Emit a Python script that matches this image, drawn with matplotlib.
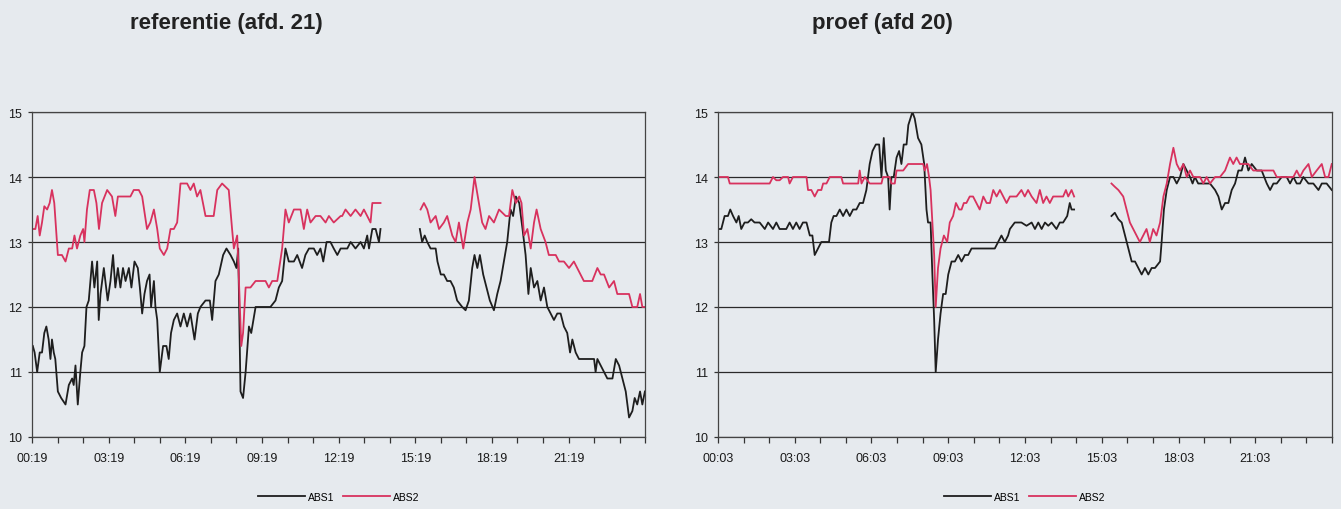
import numpy as np
import matplotlib.pyplot as plt
from matplotlib import font_manager

nan = np.nan

# tick labels (every 3 hours, minor tick each hour)
ref_ticks = ["00:19", "03:19", "06:19", "09:19", "12:19", "15:19", "18:19", "21:19"]
proef_ticks = ["00:03", "03:03", "06:03", "09:03", "12:03", "15:03", "18:03", "21:03"]

# referentie (afd. 21) - hours after start, temperature
ref_abs1_h = [0.03, 0.10, 0.20, 0.30, 0.39, 0.48, 0.56, 0.65, 0.72, 0.78, 0.85, 0.91, 1.01, 1.14, 1.31,
              1.44, 1.57, 1.63, 1.70, 1.79, 1.89, 1.96, 2.05, 2.13, 2.22, 2.35, 2.44, 2.55, 2.61, 2.68,
              2.81, 2.96, 3.07, 3.17, 3.26, 3.36, 3.46, 3.56, 3.66, 3.79, 3.89, 4.01, 4.14, 4.22, 4.31,
              4.40, 4.50, 4.60, 4.66, 4.77, 4.83, 4.90, 5.00, 5.13, 5.26, 5.35, 5.44, 5.55, 5.68, 5.81,
              5.94, 6.07, 6.20, 6.36, 6.49, 6.59, 6.79, 6.96, 7.05, 7.18, 7.31, 7.48, 7.61, 7.77, 7.90,
              8.00, 8.07, 8.16, 8.26, 8.36, 8.49, 8.58, 8.75, 8.94, 9.33, 9.53, 9.66, 9.79, 9.92, 10.05,
              10.25, 10.38, 10.57, 10.70, 10.84, 11.03, 11.16, 11.29, 11.40, 11.53, 11.68, 11.81, 11.95,
              12.08, 12.14, 12.34, 12.47, 12.66, 12.86, 12.99, 13.12, 13.19, 13.32, 13.45, 13.58, 13.64,
              14.5,
              15.18, 15.27, 15.37, 15.47, 15.60, 15.80, 15.87, 16.00, 16.12, 16.25, 16.38, 16.51, 16.64,
              16.84, 16.97, 17.10, 17.23, 17.32, 17.43, 17.53, 17.66, 17.79, 17.92, 18.08, 18.21, 18.34,
              18.47, 18.60, 18.73, 18.83, 18.94, 19.07, 19.20, 19.32, 19.43, 19.52, 19.65, 19.78, 19.91,
              20.04, 20.17, 20.30, 20.43, 20.56, 20.69, 20.82, 20.95, 21.06, 21.15, 21.28, 21.41, 21.74,
              22.00, 22.06, 22.13, 22.26, 22.39, 22.52, 22.72, 22.85, 22.98, 23.11, 23.24, 23.37, 23.50,
              23.59, 23.69, 23.80, 23.89, 23.99]
ref_abs1 = [11.4, 11.3, 11.0, 11.3, 11.3, 11.6, 11.7, 11.5, 11.2, 11.5, 11.3, 11.2, 10.7, 10.6, 10.5,
            10.8, 10.9, 10.8, 11.1, 10.5, 11.0, 11.3, 11.4, 12.0, 12.1, 12.7, 12.3, 12.7, 11.8, 12.2,
            12.6, 12.1, 12.4, 12.8, 12.3, 12.6, 12.3, 12.6, 12.4, 12.6, 12.3, 12.7, 12.6, 12.3, 11.9,
            12.2, 12.4, 12.5, 12.0, 12.4, 12.0, 11.8, 11.0, 11.4, 11.4, 11.2, 11.6, 11.8, 11.9, 11.7,
            11.9, 11.7, 11.9, 11.5, 11.9, 12.0, 12.1, 12.1, 11.8, 12.4, 12.5, 12.8, 12.9, 12.8, 12.7,
            12.6, 12.9, 10.7, 10.6, 11.0, 11.7, 11.6, 12.0, 12.0, 12.0, 12.1, 12.3, 12.4, 12.9, 12.7,
            12.7, 12.8, 12.6, 12.8, 12.9, 12.9, 12.8, 12.9, 12.7, 13.0, 13.0, 12.9, 12.8,
            12.9, 12.9, 12.9, 13.0, 12.9, 13.0, 12.9, 13.1, 12.9, 13.2, 13.2, 13.0, 13.2,
            nan,
            13.2, 13.0, 13.1, 13.0, 12.9, 12.9, 12.7, 12.5, 12.5, 12.4, 12.4, 12.3, 12.1,
            12.0, 11.95, 12.1, 12.6, 12.8, 12.6, 12.8, 12.5, 12.3, 12.1, 11.95, 12.2, 12.4,
            12.7, 13.0, 13.5, 13.4, 13.7, 13.6, 13.2, 12.8, 12.2, 12.6, 12.3, 12.4, 12.1,
            12.3, 12.0, 11.9, 11.8, 11.9, 11.9, 11.7, 11.6, 11.3, 11.5, 11.3, 11.2, 11.2,
            11.2, 11.0, 11.2, 11.1, 11.0, 10.9, 10.9, 11.2, 11.1, 10.9, 10.7, 10.3, 10.4,
            10.6, 10.5, 10.7, 10.5, 10.7]

ref_abs2_h = [0.03, 0.13, 0.22, 0.30, 0.39, 0.48, 0.59, 0.69, 0.78, 0.87, 1.01, 1.17, 1.31, 1.44, 1.57,
              1.66, 1.76, 1.89, 2.00, 2.05, 2.15, 2.26, 2.42, 2.52, 2.62, 2.74, 2.94, 3.13, 3.26, 3.36,
              3.59, 3.85, 3.98, 4.18, 4.31, 4.50, 4.63, 4.77, 4.90, 5.00, 5.16, 5.29, 5.42, 5.55, 5.68,
              5.81, 6.07, 6.20, 6.33, 6.46, 6.59, 6.79, 7.11, 7.25, 7.44, 7.70, 7.83, 7.90, 8.03, 8.09,
              8.19, 8.26, 8.36, 8.55, 8.75, 9.14, 9.27, 9.40, 9.60, 9.79, 9.92, 10.05, 10.25, 10.51,
              10.64, 10.77, 10.90, 11.10, 11.29, 11.49, 11.62, 11.81, 12.08, 12.14, 12.27, 12.47, 12.66,
              12.86, 12.99, 13.12, 13.25, 13.32, 13.64,
              14.5,
              15.21, 15.34, 15.47, 15.60, 15.80, 15.93, 16.12, 16.25, 16.45, 16.58, 16.71, 16.88, 17.04,
              17.17, 17.32, 17.49, 17.62, 17.75, 17.89, 18.08, 18.28, 18.54, 18.67, 18.80, 18.94, 19.07,
              19.16, 19.26, 19.39, 19.52, 19.65, 19.75, 19.91, 20.10, 20.23, 20.50, 20.63, 20.82, 21.02,
              21.21, 21.34, 21.60, 21.93, 22.13, 22.26, 22.39, 22.59, 22.78, 22.91, 23.17, 23.37, 23.50,
              23.69, 23.80, 23.89, 23.99]
ref_abs2 = [13.2, 13.2, 13.4, 13.1, 13.3, 13.55, 13.5, 13.6, 13.8, 13.6, 12.8, 12.8, 12.7, 12.9, 12.9,
            13.1, 12.9, 13.1, 13.2, 13.0, 13.5, 13.8, 13.8, 13.6, 13.2, 13.6, 13.8, 13.7, 13.4, 13.7,
            13.7, 13.7, 13.8, 13.8, 13.7, 13.2, 13.3, 13.5, 13.2, 12.9, 12.8, 12.9, 13.2, 13.2, 13.3,
            13.9, 13.9, 13.8, 13.9, 13.7, 13.8, 13.4, 13.4, 13.8, 13.9, 13.8, 13.2, 12.9, 13.1, 12.5,
            11.4, 11.6, 12.3, 12.3, 12.4, 12.4, 12.3, 12.4, 12.4, 12.9, 13.5, 13.3, 13.5, 13.5,
            13.2, 13.5, 13.3, 13.4, 13.4, 13.3, 13.4, 13.3, 13.4, 13.4, 13.5, 13.4, 13.5,
            13.4, 13.5, 13.4, 13.3, 13.6, 13.6,
            nan,
            13.5, 13.6, 13.5, 13.3, 13.4, 13.2, 13.3, 13.4, 13.1, 13.0, 13.3, 12.9, 13.3,
            13.5, 14.0, 13.6, 13.3, 13.2, 13.4, 13.3, 13.5, 13.4, 13.4, 13.8, 13.6, 13.7,
            13.6, 13.1, 13.2, 12.9, 13.3, 13.5, 13.2, 13.0, 12.8, 12.8, 12.7, 12.7, 12.6,
            12.7, 12.6, 12.4, 12.4, 12.6, 12.5, 12.5, 12.3, 12.4, 12.2, 12.2, 12.2, 12.0,
            12.0, 12.2, 12.0, 12.0]

# proef (afd 20)
proef_abs1_h = [0.03, 0.13, 0.26, 0.39, 0.48, 0.59, 0.72, 0.81, 0.91, 1.04, 1.17, 1.30, 1.43, 1.63, 1.83,
                1.96, 2.15, 2.28, 2.41, 2.54, 2.67, 2.80, 2.93, 3.06, 3.19, 3.32, 3.46, 3.59, 3.69, 3.78,
                3.91, 4.04, 4.17, 4.34, 4.43, 4.52, 4.63, 4.76, 4.89, 5.02, 5.15, 5.28, 5.41, 5.54, 5.67,
                5.80, 5.93, 6.04, 6.17, 6.30, 6.39, 6.48, 6.56, 6.65, 6.71, 6.78, 6.87, 6.98, 7.08, 7.17,
                7.26, 7.37, 7.44, 7.52, 7.60, 7.69, 7.82, 7.95, 8.06, 8.15, 8.21, 8.31, 8.38, 8.45, 8.51,
                8.60, 8.70, 8.80, 8.90, 9.00, 9.13, 9.26, 9.39, 9.52, 9.65, 9.78, 9.91, 10.10, 10.50, 10.82,
                10.95, 11.08, 11.21, 11.34, 11.41, 11.60, 11.86, 12.06, 12.26, 12.39, 12.52, 12.65, 12.78,
                12.91, 13.04, 13.23, 13.36, 13.49, 13.65, 13.75, 13.82, 13.92,
                14.6,
                15.38, 15.51, 15.65, 15.78, 15.91, 16.04, 16.17, 16.30, 16.43, 16.56, 16.69, 16.82, 16.95,
                17.08, 17.28, 17.34, 17.43, 17.54, 17.67, 17.80, 17.93, 18.06, 18.19, 18.32, 18.45, 18.55,
                18.64, 18.77, 18.97, 19.23, 19.43, 19.56, 19.69, 19.82, 19.95, 20.08, 20.21, 20.34, 20.47,
                20.60, 20.73, 20.86, 21.06, 21.25, 21.45, 21.58, 21.71, 21.84, 22.03, 22.23, 22.36, 22.49,
                22.62, 22.75, 22.88, 23.08, 23.27, 23.47, 23.60, 23.79, 23.99]
proef_abs1 = [13.2, 13.2, 13.4, 13.4, 13.5, 13.4, 13.3, 13.4, 13.2, 13.3, 13.3, 13.35, 13.3, 13.3, 13.2,
              13.3, 13.2, 13.3, 13.2, 13.2, 13.2, 13.3, 13.2, 13.3, 13.2, 13.3, 13.3, 13.1, 13.1, 12.8,
              12.9, 13.0, 13.0, 13.0, 13.3, 13.4, 13.4, 13.5, 13.4, 13.5, 13.4, 13.5, 13.5, 13.6, 13.6,
              13.8, 14.2, 14.4, 14.5, 14.5, 14.0, 14.6, 14.1, 14.0, 13.5, 14.0, 14.0, 14.3, 14.4, 14.2,
              14.5, 14.5, 14.8, 14.9, 15.0, 14.9, 14.6, 14.5, 14.2, 13.5, 13.3, 13.3, 12.5, 11.8, 11.0,
              11.5, 11.9, 12.2, 12.2, 12.5, 12.7, 12.7, 12.8, 12.7, 12.8, 12.8, 12.9, 12.9, 12.9, 12.9,
              13.0, 13.1, 13.0, 13.1, 13.2, 13.3, 13.3, 13.25, 13.3, 13.2, 13.3, 13.2, 13.3,
              13.25, 13.3, 13.2, 13.3, 13.3, 13.4, 13.6, 13.5, 13.5,
              nan,
              13.4, 13.45, 13.35, 13.3, 13.1, 12.9, 12.7, 12.7, 12.6, 12.5, 12.6, 12.5, 12.6,
              12.6, 12.7, 13.0, 13.5, 13.8, 14.0, 14.0, 13.9, 14.0, 14.2, 14.1, 14.0, 13.9,
              14.0, 13.9, 13.9, 13.9, 13.8, 13.7, 13.5, 13.6, 13.6, 13.8, 13.9, 14.1, 14.1,
              14.3, 14.1, 14.2, 14.1, 14.1, 13.9, 13.8, 13.9, 13.9, 14.0, 14.0, 13.9, 14.0,
              13.9, 13.9, 14.0, 13.9, 13.9, 13.8, 13.9, 13.9, 13.8]

proef_abs2_h = [0.03, 0.39, 0.46, 0.85, 1.50, 2.02, 2.15, 2.28, 2.41, 2.54, 2.74, 2.80, 2.93, 3.06, 3.46,
                3.52, 3.65, 3.78, 3.91, 4.04, 4.11, 4.24, 4.37, 4.63, 4.82, 4.89, 5.28, 5.48, 5.54, 5.61,
                5.74, 5.93, 6.19, 6.39, 6.45, 6.71, 6.78, 6.91, 6.98, 7.24, 7.43, 7.76, 8.02, 8.08, 8.17,
                8.25, 8.31, 8.38, 8.45, 8.51, 8.60, 8.70, 8.83, 8.96, 9.06, 9.19, 9.30, 9.43, 9.52, 9.61,
                9.71, 9.84, 9.97, 10.10, 10.23, 10.37, 10.50, 10.63, 10.76, 10.89, 11.02, 11.15, 11.28,
                11.41, 11.67, 11.86, 11.99, 12.12, 12.26, 12.45, 12.58, 12.71, 12.84, 12.97, 13.10, 13.30,
                13.49, 13.60, 13.69, 13.82, 13.92,
                14.6,
                15.38, 15.51, 15.65, 15.84, 15.97, 16.10, 16.23, 16.36, 16.49, 16.62, 16.75, 16.88, 17.01,
                17.14, 17.28, 17.41, 17.54, 17.67, 17.80, 17.93, 18.06, 18.19, 18.32, 18.45, 18.58, 18.71,
                18.84, 18.97, 19.10, 19.23, 19.43, 19.62, 19.82, 20.01, 20.14, 20.27, 20.40, 20.53, 20.73,
                20.92, 21.32, 21.71, 21.84, 22.10, 22.49, 22.62, 22.75, 22.88, 23.08, 23.21, 23.40, 23.60,
                23.73, 23.86, 23.99]
proef_abs2 = [14.0, 14.0, 13.9, 13.9, 13.9, 13.9, 14.0, 13.95, 13.95, 14.0, 14.0, 13.9, 14.0, 14.0, 14.0,
              13.8, 13.8, 13.7, 13.8, 13.8, 13.9, 13.9, 14.0, 14.0, 14.0, 13.9, 13.9, 13.9, 14.1, 13.9,
              14.0, 13.9, 13.9, 13.9, 14.0, 14.0, 13.9, 13.9, 14.1, 14.1, 14.2, 14.2, 14.2, 14.1, 14.2,
              14.0, 13.8, 13.3, 12.8, 12.0, 12.6, 12.9, 13.1, 13.0, 13.3, 13.4, 13.6, 13.5, 13.5, 13.6,
              13.6, 13.7, 13.7, 13.6, 13.5, 13.7, 13.6, 13.6, 13.8, 13.7, 13.8, 13.7, 13.6,
              13.7, 13.7, 13.8, 13.7, 13.8, 13.7, 13.6, 13.8, 13.6, 13.7, 13.6, 13.7, 13.7,
              13.7, 13.8, 13.7, 13.8, 13.7,
              nan,
              13.9, 13.85, 13.8, 13.7, 13.5, 13.3, 13.2, 13.1, 13.0, 13.1, 13.2, 13.0, 13.2,
              13.1, 13.3, 13.7, 13.9, 14.2, 14.45, 14.2, 14.1, 14.2, 14.0, 14.1, 14.0, 14.0,
              14.0, 13.9, 14.0, 13.9, 14.0, 14.0, 14.1, 14.3, 14.2, 14.3, 14.2, 14.2, 14.2,
              14.1, 14.1, 14.1, 14.0, 14.0, 14.0, 14.1, 14.0, 14.1, 14.2, 14.0, 14.1, 14.2,
              14.0, 14.0, 14.2]

bg = "#e6eaee"
red = "#d8325e"
blk = "#1e1e1e"

names = {f.name for f in font_manager.fontManager.ttflist}
font = "Liberation Sans Narrow" if "Liberation Sans Narrow" in names else "Liberation Sans"
plt.rcParams["font.family"] = [font, "DejaVu Sans"]

fig = plt.figure(figsize=(13.41, 5.10), dpi=100, facecolor=bg)

panels = [
    ([0.0239, 0.1412, 0.4572, 0.6372], ref_abs1_h, ref_abs1, ref_abs2_h, ref_abs2, ref_ticks),
    ([0.5354, 0.1412, 0.4579, 0.6372], proef_abs1_h, proef_abs1, proef_abs2_h, proef_abs2, proef_ticks),
]

for rect, h1, v1, h2, v2, ticks in panels:
    ax = fig.add_axes(rect)
    ax.set_facecolor(bg)
    ax.plot(h1, v1, color=blk, lw=1.3, label="ABS1")
    ax.plot(h2, v2, color=red, lw=1.3, label="ABS2")
    ax.set_xlim(0, 24)
    ax.set_ylim(10, 15)
    ax.set_yticks([10, 11, 12, 13, 14, 15])
    ax.set_xticks(range(0, 24, 3))
    ax.set_xticklabels(ticks)
    ax.set_xticks(range(0, 25), minor=True)
    ax.tick_params(axis="x", which="both", direction="out", length=4, width=0.9, color="#333")
    ax.tick_params(axis="x", pad=7)
    ax.tick_params(axis="y", direction="out", length=3, width=0.9, color="#333", pad=4)
    ax.tick_params(labelsize=9, labelcolor="#1a1a1a")
    ax.grid(axis="y", color="#2a2a2a", lw=0.9)
    for s in ax.spines.values():
        s.set_color("#444")
        s.set_linewidth(0.9)
    ax.legend(loc="center", bbox_to_anchor=(0.5, -0.185), ncol=2, frameon=False,
              fontsize=7.5, handlelength=4.5, columnspacing=0.8, handletextpad=0.3)

fig.text(226 / 1341, 1 - 24 / 510, "referentie (afd. 21)", ha="center", va="center",
         fontsize=16, fontweight="bold", color="#222")
fig.text(882 / 1341, 1 - 24 / 510, "proef (afd 20)", ha="center", va="center",
         fontsize=16, fontweight="bold", color="#222")

fig.savefig("out.png", dpi=100, facecolor=bg)
